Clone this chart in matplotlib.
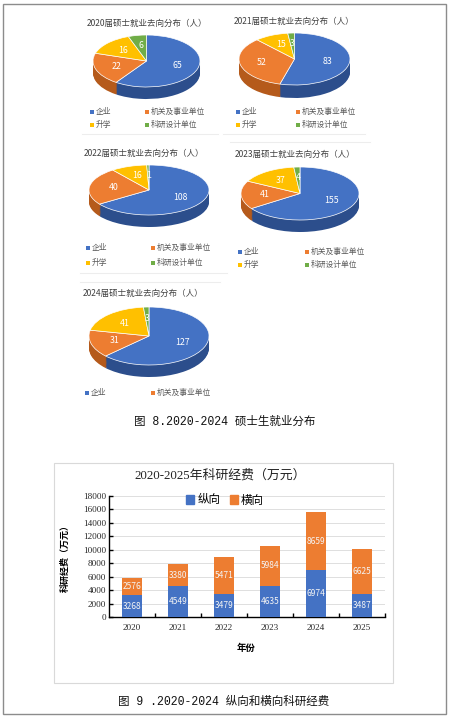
import matplotlib
matplotlib.use('Agg')
import matplotlib.pyplot as plt
from matplotlib.patches import Patch, Rectangle
from matplotlib.transforms import Affine2D
import numpy as np

# ---- data ----
pie_years = ['2020', '2021', '2022', '2023', '2024']
pie_cats = ['企业', '机关及事业单位', '升学', '科研设计单位']
pie_2020 = [65, 22, 16, 6]
pie_2021 = [83, 52, 15, 3]
pie_2022 = [108, 40, 16, 1]
pie_2023 = [155, 41, 37, 4]
pie_2024 = [127, 31, 41, 3]
pie_values = [pie_2020, pie_2021, pie_2022, pie_2023, pie_2024]

bar_years = ['2020', '2021', '2022', '2023', '2024', '2025']
bar_zong = [3268, 4549, 3479, 4635, 6974, 3487]
bar_heng = [2576, 3380, 5471, 5984, 8659, 6625]

W, H = 451, 719
CJK = ['Noto Sans CJK SC', 'DejaVu Sans']
SERIF = ['Liberation Serif', 'Noto Sans CJK SC']
plt.rcParams['font.family'] = CJK

top_colors = ['#4472C4', '#ED7D31', '#FFC000', '#70AD47']
side_colors = ['#2C4E8C', '#B55A1B', '#C09000', '#4E8030']


def fbox(x0, y0, x1, y1):
    return [x0 / W, 1 - y1 / H, (x1 - x0) / W, (y1 - y0) / H]


fig = plt.figure(figsize=(W / 100, H / 100), dpi=100)

# overlay axes in pixel units (y measured downward as negative)
ov = fig.add_axes([0, 0, 1, 1])
ov.set_xlim(0, W)
ov.set_ylim(-H, 0)
ov.axis('off')

# page border and faint panel frames
ov.add_patch(Rectangle((3, -714), 443, 710, fill=False, ec='#8c8c8c', lw=1))
for x0, x1, y in [(82, 218, 134), (223, 365, 134), (230, 370, 142),
                  (80, 227, 273), (80, 220, 282)]:
    ov.plot([x0, x1], [-y, -y], color='#ededed', lw=0.8)

# pie layout: center x, top y, radius x, radius y, depth, title x, title y,
# legend col1 x, col2 x, legend row ys
pie_layout = [
    (146.5, 35, 53.5, 26, 12, 87, 23, 92, 147, [112, 125]),
    (294.5, 33, 55.5, 26, 13, 234, 21, 238, 298, [112, 125]),
    (149, 165, 60, 25, 12, 84, 153, 88, 153, [248, 263]),
    (300, 167, 59, 26.5, 12, 235, 154, 240, 307, [252, 265]),
    (149, 307, 60, 29, 12, 83, 293, 87, 153, [393]),
]

for year, vals, lay in zip(pie_years, pie_values, pie_layout):
    cx, top, rx, ry, depth, tx, ty, lx1, lx2, rows = lay
    cy = top + ry
    k = ry / rx
    total = sum(vals)
    n_layers = 14
    for j in range(n_layers + 1):
        off = depth * (n_layers - j) / n_layers
        is_top = j == n_layers
        wedges, *rest = ov.pie(
            vals, center=(cx, -cy), radius=rx, startangle=90, counterclock=False,
            colors=top_colors if is_top else side_colors, frame=True,
            autopct=(lambda p, t=total: f'{p * t / 100:.0f}') if is_top else None,
            pctdistance=0.6,
            wedgeprops=dict(edgecolor='white' if is_top else 'none',
                            linewidth=0.5 if is_top else 0),
            textprops=dict(color='white', fontsize=6.3))
        tr = Affine2D().translate(-cx, cy).scale(1, k).translate(cx, -cy - off) + ov.transData
        for w in wedges:
            w.set_transform(tr)
        if is_top:
            for t in rest[1]:
                t.set_transform(tr)
    fig.text(tx / W, 1 - ty / H, f'{year}届硕士就业去向分布（人）', ha='left', va='center',
             fontsize=6.1, color='#404040')
    # legend
    spots = [(lx1, rows[0]), (lx2, rows[0])]
    if len(rows) > 1:
        spots += [(lx1, rows[1]), (lx2, rows[1])]
    for (lx, ly), cat, col in zip(spots, pie_cats, top_colors):
        ov.scatter([lx], [-ly], marker='s', s=5, color=col, lw=0)
        ov.text(lx + 3.5, -ly, cat, ha='left', va='center', fontsize=5.6, color='#595959')

ov.set_xlim(0, W)
ov.set_ylim(-H, 0)
ov.set_aspect('auto')

fig.text(225 / W, 1 - 422 / H, '图 8.2020-2024 硕士生就业分布', ha='center', va='center',
         fontsize=8.3, family=['Liberation Mono', 'Noto Sans CJK SC'], color='#111111')

# ---- bar chart ----
ov.add_patch(Rectangle((54, -683), 339, 220, fill=False, ec='#d9d9d9', lw=0.8))
fig.text(220 / W, 1 - 475 / H, '2020-2025年科研经费（万元）', ha='center', va='center',
         fontsize=9.3, family=SERIF, color='#222222')

ax = fig.add_axes(fbox(109, 496, 385, 617))
x = np.arange(len(bar_years))
b1 = ax.bar(x, bar_zong, width=0.42, color='#4472C4', zorder=3, label='纵向')
b2 = ax.bar(x, bar_heng, width=0.42, bottom=bar_zong, color='#ED7D31', zorder=3, label='横向')
ax.bar_label(b1, label_type='center', color='#f4f4f4', fontsize=6)
ax.bar_label(b2, label_type='center', color='#f4f4f4', fontsize=6)

ax.set_xlim(-0.5, len(bar_years) - 0.5)
ax.set_ylim(0, 18000)
ax.set_yticks(np.arange(0, 18001, 2000))
ax.set_xticks(x)
ax.set_xticklabels(bar_years)
ax.set_xticks(np.arange(0.5, len(bar_years), 1), minor=True)
ax.tick_params(axis='x', which='major', length=0, pad=5)
ax.tick_params(axis='x', which='minor', direction='in', length=3, width=1)
ax.tick_params(axis='y', direction='in', length=3, width=1, pad=2)
for lab in ax.get_xticklabels() + ax.get_yticklabels():
    lab.set_family(SERIF)
    lab.set_fontsize(6.6)
    lab.set_color('#262626')
ax.grid(axis='y', color='#d9d9d9', lw=0.6, zorder=0)
ax.spines['top'].set_visible(False)
ax.spines['right'].set_visible(False)
ax.spines['left'].set_linewidth(1)
ax.spines['bottom'].set_linewidth(1)

ax.set_ylabel('科研经费（万元）', fontsize=6.5, fontweight='bold')
ax.yaxis.set_label_coords(-0.141, 0.5)
ax.set_xlabel('年份', fontsize=6.8, fontweight='bold')
ax.xaxis.set_label_coords(0.496, -0.215)

fig.legend(handles=[Patch(color='#4472C4', label='纵向'), Patch(color='#ED7D31', label='横向')],
           loc='center', bbox_to_anchor=(225 / W, 1 - 500 / H), ncol=2, frameon=False,
           fontsize=8.3, handlelength=0.7, handleheight=0.7, handletextpad=0.3,
           columnspacing=0.8, borderpad=0)

fig.text(224 / W, 1 - 702 / H, '图 9 .2020-2024 纵向和横向科研经费', ha='center', va='center',
         fontsize=8.3, family=['Liberation Mono', 'Noto Sans CJK SC'], color='#111111')

fig.savefig('out.png', dpi=100)
